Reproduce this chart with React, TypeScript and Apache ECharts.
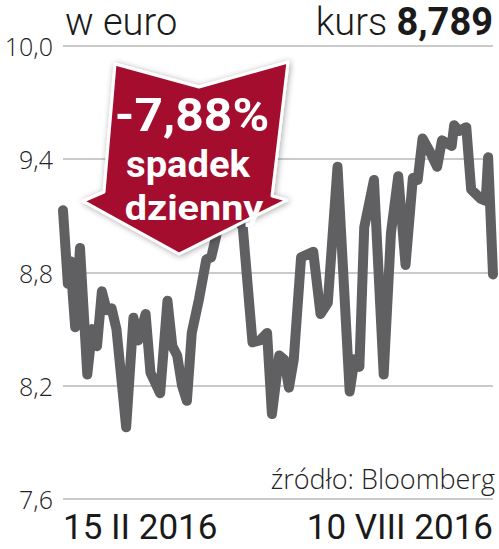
import React, { useEffect, useRef } from "react";
import * as echarts from "echarts";

// Days since 15 Feb 2016
const dayOffsets = [0, 2, 3, 5, 7, 10, 12, 14, 16, 18, 20, 22, 26, 29, 31, 34, 36, 40, 43, 45, 47, 49, 51, 53, 56, 59, 61, 63, 65, 68, 71, 73, 74, 78, 81, 84, 86, 89, 91, 93, 95, 98, 103, 106, 109, 113, 118, 120, 122, 124, 128, 132, 135, 138, 141, 144, 146, 148, 151, 154, 156, 160, 161, 163, 166, 168, 172, 174, 175, 177];
// Price in EUR
const prices = [9.13, 8.74, 8.86, 8.51, 8.93, 8.26, 8.5, 8.41, 8.7, 8.6, 8.61, 8.5, 7.98, 8.56, 8.44, 8.58, 8.27, 8.16, 8.65, 8.41, 8.36, 8.2, 8.12, 8.48, 8.66, 8.87, 8.88, 8.99, 9.15, 9.22, 9.12, 9.06, 9.04, 8.43, 8.44, 8.48, 8.05, 8.36, 8.34, 8.19, 8.34, 8.88, 8.91, 8.58, 8.64, 9.36, 8.17, 8.34, 8.3, 9.04, 9.29, 8.26, 9.01, 9.31, 8.84, 9.3, 9.29, 9.51, 9.44, 9.36, 9.5, 9.47, 9.58, 9.55, 9.57, 9.24, 9.19, 9.18, 9.41, 8.79];

const yTicks = [7.6, 8.2, 8.8, 9.4, 10.0];
const dateLabels = ["15 II 2016", "10 VIII 2016"];
const unitLabel = "w euro";
const priceLabel = "kurs";
const lastPrice = "8,789";
const dropLines = ["-7,88%", "spadek", "dzienny"];
const sourceText = "źródło: Bloomberg";

const DAY_MAX = 177;

export default function App() {
  const ref = useRef<HTMLDivElement>(null);

  useEffect(() => {
    document.body.style.margin = "0";
    if (!ref.current) return;
    const chart = echarts.init(ref.current, undefined, { renderer: "svg" });

    const isTick = (v: number) => yTicks.some((t) => Math.abs(t - v) < 1e-6);

    const arrowText = (text: string, x: number, y: number, size: number, sx: number) => ({
      type: "text",
      z: 101,
      x,
      y,
      scaleX: sx,
      style: {
        text,
        fontFamily: "Roboto",
        fontWeight: "bold",
        fontSize: size,
        fill: "#ffffff",
        align: "center",
        verticalAlign: "middle",
      },
    });

    const option: any = {
      animation: false,
      backgroundColor: "#ffffff",
      grid: { left: 63, right: 6, top: 46, bottom: 50, containLabel: false },
      xAxis: {
        type: "value",
        min: 0,
        max: DAY_MAX,
        interval: DAY_MAX,
        axisLine: { show: false },
        axisTick: { show: false },
        splitLine: { show: false },
        axisLabel: {
          formatter: (v: number) => (v === 0 ? dateLabels[0] : v === DAY_MAX ? dateLabels[1] : ""),
          alignMinLabel: "left",
          alignMaxLabel: "right",
          fontFamily: "Roboto",
          fontSize: 35,
          fontWeight: "normal",
          color: "#1a1a1a",
          margin: 11,
        },
      },
      yAxis: {
        type: "value",
        min: 7.6,
        max: 10.0,
        interval: 0.2,
        axisLine: { show: false },
        axisTick: { show: false },
        splitLine: { show: false },
        axisLabel: {
          customValues: yTicks,
          formatter: (v: number) => (isTick(v) ? v.toFixed(1).replace(".", ",") : ""),
          fontFamily: "Open Sans",
          fontWeight: 300,
          fontSize: 25,
          color: "#222222",
          margin: 10,
        },
      },
      series: [
        {
          type: "line",
          z: 3,
          data: dayOffsets.map((d, i) => [d, prices[i]]),
          showSymbol: false,
          symbol: "none",
          lineStyle: { color: "#606062", width: 10, cap: "round", join: "round" },
          markLine: {
            silent: true,
            z: 1,
            symbol: ["none", "none"],
            label: { show: false },
            lineStyle: { color: "#b8b8b8", width: 1.5, type: "solid" },
            data: yTicks.map((v) => ({ yAxis: v })),
          },
        },
      ],
      graphic: [
        {
          type: "text",
          z: 100,
          x: 65,
          y: 22,
          style: {
            text: unitLabel,
            fontFamily: "Roboto",
            fontWeight: 300,
            fontSize: 38,
            fill: "#1a1a1a",
            align: "left",
            verticalAlign: "middle",
          },
        },
        {
          type: "text",
          z: 100,
          x: 493,
          y: 22,
          style: {
            text: `{a|${priceLabel} }{b|${lastPrice}}`,
            align: "right",
            verticalAlign: "middle",
            rich: {
              a: { fontFamily: "Roboto", fontWeight: 300, fontSize: 38, fill: "#1a1a1a" },
              b: { fontFamily: "Roboto", fontWeight: "bold", fontSize: 38, fill: "#1a1a1a" },
            },
          },
        },
        {
          type: "polygon",
          z: 100,
          shape: {
            points: [
              [115, 64],
              [199, 87],
              [288, 62],
              [272, 196],
              [287, 200],
              [179, 254],
              [83, 201],
              [104, 192],
            ],
          },
          style: {
            fill: "#a50f2e",
            stroke: "#ffffff",
            lineWidth: 3,
            lineJoin: "round",
            shadowBlur: 6,
            shadowColor: "rgba(0,0,0,0.35)",
            shadowOffsetX: 1,
            shadowOffsetY: 1,
          },
        },
        arrowText(dropLines[0], 192, 115, 47, 1.06),
        arrowText(dropLines[1], 188, 165, 36, 1.06),
        arrowText(dropLines[2], 194, 208, 36, 1.1),
        {
          type: "text",
          z: 100,
          x: 495,
          y: 478,
          style: {
            text: sourceText,
            fontFamily: "Open Sans",
            fontWeight: 300,
            fontSize: 27,
            fill: "#222222",
            align: "right",
            verticalAlign: "middle",
          },
        },
      ],
    };

    chart.setOption(option);
    return () => chart.dispose();
  }, []);

  return <div ref={ref} style={{ width: 499, height: 549 }} />;
}
